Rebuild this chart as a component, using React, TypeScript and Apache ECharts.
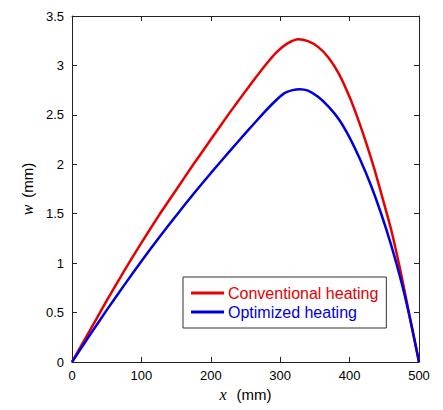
import React, { useEffect, useRef } from "react";
import * as echarts from "echarts";

const xConventional = [0, 25, 50, 75, 100, 125, 150, 175, 200, 227, 250, 265, 280, 295, 310, 326, 340, 355, 370, 385, 400, 412, 424, 436, 448, 460, 475, 488, 500];
const wConventional = [0, 0.31, 0.62, 0.92, 1.205, 1.48, 1.74, 2.0, 2.25, 2.52, 2.74, 2.88, 3.015, 3.135, 3.22, 3.265, 3.245, 3.185, 3.075, 2.91, 2.68, 2.46, 2.215, 1.945, 1.645, 1.335, 0.865, 0.41, 0];

const xOptimized = [0, 25, 50, 75, 100, 125, 150, 175, 200, 227, 250, 275, 290, 305, 318, 328, 340, 355, 370, 385, 400, 415, 430, 445, 460, 475, 488, 500];
const wOptimized = [0, 0.265, 0.525, 0.775, 1.02, 1.255, 1.48, 1.7, 1.91, 2.13, 2.315, 2.51, 2.62, 2.715, 2.75, 2.76, 2.745, 2.68, 2.58, 2.45, 2.27, 2.05, 1.8, 1.51, 1.18, 0.8, 0.41, 0];

const seriesNames = ["Conventional heating", "Optimized heating"];
const seriesColors = ["#e60000", "#0000dd"];

const FONT = "'Liberation Sans', Arial, sans-serif";
const SERIF = "'Liberation Serif', 'Times New Roman', serif";

export default function App() {
  const ref = useRef<HTMLDivElement>(null);
  useEffect(() => {
    document.body.style.margin = "0";
    const chart = echarts.init(ref.current!, null, { renderer: "svg" });
    const axisLine = { show: true, onZero: false, lineStyle: { color: "#222", width: 1 } };
    const tickIn = { show: true, inside: true, length: 5, lineStyle: { color: "#222", width: 1 } };
    const titleRich = {
      i: { fontFamily: SERIF, fontStyle: "italic", fontSize: 16, color: "#000" },
      n: { fontFamily: FONT, fontSize: 15, color: "#000" },
    };
    chart.setOption({
      animation: false,
      backgroundColor: "#fff",
      textStyle: { fontFamily: FONT },
      grid: { left: 72, right: 24, top: 16, bottom: 48, containLabel: false },
      xAxis: [
        {
          type: "value",
          min: 0,
          max: 500,
          interval: 100,
          position: "bottom",
          axisLine,
          axisTick: tickIn,
          splitLine: { show: false },
          axisLabel: { color: "#000", fontSize: 13, fontFamily: FONT, margin: 7 },
          name: "{i|x}   {n|(mm)}",
          nameLocation: "middle",
          nameGap: 20,
          nameTextStyle: { rich: titleRich },
        },
        {
          type: "value",
          min: 0,
          max: 500,
          interval: 100,
          position: "top",
          axisLine,
          axisTick: tickIn,
          splitLine: { show: false },
          axisLabel: { show: false },
        },
      ],
      yAxis: [
        {
          type: "value",
          min: 0,
          max: 3.5,
          interval: 0.5,
          position: "left",
          axisLine,
          axisTick: tickIn,
          splitLine: { show: false },
          axisLabel: { color: "#000", fontSize: 13, fontFamily: FONT, margin: 8 },
          name: "{i|w}  {n|(mm)}",
          nameLocation: "middle",
          nameGap: 30,
          nameRotate: 90,
          nameTextStyle: { rich: titleRich },
        },
        {
          type: "value",
          min: 0,
          max: 3.5,
          interval: 0.5,
          position: "right",
          axisLine,
          axisTick: tickIn,
          splitLine: { show: false },
          axisLabel: { show: false },
        },
      ],
      legend: {
        orient: "vertical",
        left: 183,
        top: 277,
        padding: [8, 8, 8, 8],
        itemGap: 3,
        itemWidth: 33,
        itemHeight: 3,
        icon: "rect",
        borderColor: "#333",
        borderWidth: 1,
        backgroundColor: "#fff",
        data: seriesNames.map((n, i) => ({ name: n, textStyle: { color: seriesColors[i] } })),
        textStyle: { fontSize: 16, fontFamily: FONT, padding: [0, 0, 0, -1] },
      },
      series: [
        {
          name: seriesNames[0],
          type: "line",
          xAxisIndex: 0,
          yAxisIndex: 0,
          data: xConventional.map((x, i) => [x, wConventional[i]]),
          smooth: 0.2,
          showSymbol: false,
          lineStyle: { color: seriesColors[0], width: 2.5 },
          itemStyle: { color: seriesColors[0] },
          z: 3,
        },
        {
          name: seriesNames[1],
          type: "line",
          xAxisIndex: 0,
          yAxisIndex: 0,
          data: xOptimized.map((x, i) => [x, wOptimized[i]]),
          smooth: 0.2,
          showSymbol: false,
          lineStyle: { color: seriesColors[1], width: 2.5 },
          itemStyle: { color: seriesColors[1] },
          z: 4,
        },
      ],
    });
    return () => chart.dispose();
  }, []);
  return <div ref={ref} style={{ width: 443, height: 410 }} />;
}
